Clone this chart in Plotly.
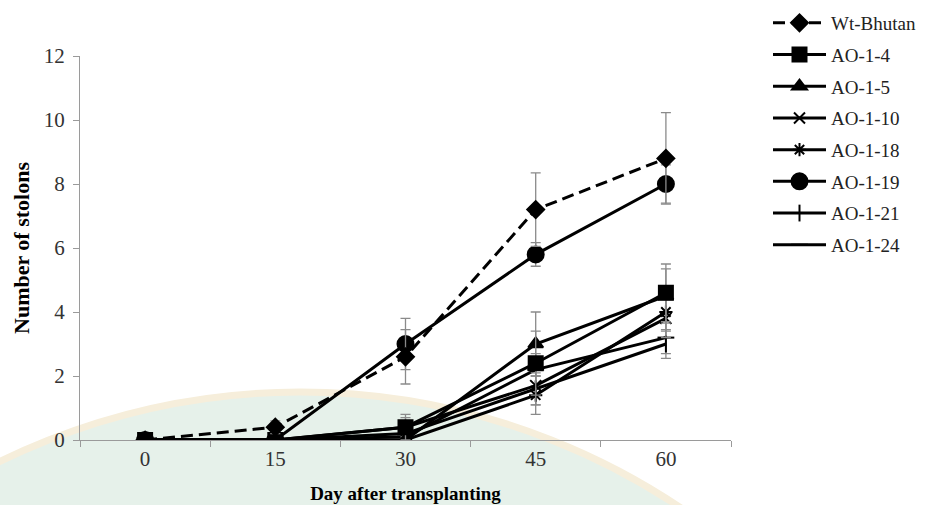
import plotly.graph_objects as go

days = ['0', '15', '30', '45', '60']
names = ['Wt-Bhutan', 'AO-1-4', 'AO-1-5', 'AO-1-10', 'AO-1-18', 'AO-1-19', 'AO-1-21', 'AO-1-24']

wt_bhutan = [0, 0.4, 2.6, 7.2, 8.8]
ao_1_4 = [0, 0, 0.4, 2.4, 4.6]
ao_1_5 = [0, 0, 0, 3.0, 4.5]
ao_1_10 = [0, 0, 0.4, 1.7, 3.8]
ao_1_18 = [0, 0, 0, 1.4, 4.0]
ao_1_19 = [0, 0, 3.0, 5.8, 8.0]
ao_1_21 = [0, 0, 0.2, 1.6, 3.0]
ao_1_24 = [0, 0, 0.1, 2.2, 3.2]

err_wt_bhutan = [None, 0.2, 0.85, 1.15, 1.43]
err_ao_1_4 = [None, None, 0.4, 1.0, 0.9]
err_ao_1_5 = [None, None, None, 1.0, 0.85]
err_ao_1_10 = [None, None, 0.3, 0.6, 0.6]
err_ao_1_18 = [None, None, None, 0.6, 0.6]
err_ao_1_19 = [None, None, 0.8, 0.37, 0.6]
err_ao_1_21 = [None, None, 0.2, 0.5, 0.45]
err_ao_1_24 = [None, None, 0.1, 0.5, 0.5]

values = [wt_bhutan, ao_1_4, ao_1_5, ao_1_10, ao_1_18, ao_1_19, ao_1_21, ao_1_24]
errors = [err_wt_bhutan, err_ao_1_4, err_ao_1_5, err_ao_1_10, err_ao_1_18, err_ao_1_19, err_ao_1_21, err_ao_1_24]
symbols = ['diamond', 'square', 'triangle-up', 'x-thin-open', 'asterisk-open', 'circle', 'line-ns-open', 'line-ew-open']
sizes = [13, 14, 13, 11, 11, 16, 12, 12]
dashes = ['12px,6px', 'solid', 'solid', 'solid', 'solid', 'solid', 'solid', 'solid']

FONT = 'Liberation Serif'
fig = go.Figure()

for i in reversed(range(len(names))):
    fig.add_trace(go.Scatter(
        x=days, y=values[i], name=names[i], mode='lines+markers',
        legendgroup=names[i], legendrank=i + 1,
        line=dict(color='black', width=3, dash=dashes[i]),
        marker=dict(symbol=symbols[i], size=sizes[i], color='black',
                    line=dict(color='black', width=2)),
        error_y=dict(type='data', array=errors[i], color='#8a8a8a', thickness=1.3, width=5),
    ))

# faint watermark disc behind the plot
L, R, T, B = 80, 194, 56, 65
W, H = 925 - L - R, 505 - T - B
cx, cy, rad = 300, 1075, 683
def px(x):
    return (x - L) / W
def py(y):
    return (505 - B - y) / H
fig.add_shape(type='circle', xref='paper', yref='paper', layer='below',
              x0=px(cx - rad), x1=px(cx + rad), y0=py(cy + rad), y1=py(cy - rad),
              fillcolor='#e6f1ea', line=dict(color='#f6eedb', width=7))

fig.update_layout(
    width=925, height=505,
    margin=dict(l=L, r=R, t=T, b=B, autoexpand=False),
    paper_bgcolor='white', plot_bgcolor='rgba(0,0,0,0)',
    font=dict(family=FONT, size=20, color='#3a3a3a'),
    showlegend=True,
    legend=dict(x=px(768), y=py(4), xanchor='left', yanchor='top',
                traceorder='grouped', tracegroupgap=4, maxheight=500,
                itemwidth=53, font=dict(family=FONT, size=19, color='#222'),
                bgcolor='rgba(0,0,0,0)'),
    xaxis=dict(type='category', range=[-0.5, 4.5], showline=True, linecolor='#9a9a9a',
               linewidth=1.3, ticks='outside', ticklen=6, tickcolor='#9a9a9a',
               tickson='boundaries', showgrid=False, zeroline=False,
               tickfont=dict(family=FONT, size=21, color='#333'),
               title=dict(text='<b>Day after transplanting</b>', standoff=16,
                          font=dict(family=FONT, size=19, color='black'))),
    yaxis=dict(range=[0, 12], dtick=2, showline=True, linecolor='#9a9a9a', linewidth=1.3,
               ticks='outside', ticklen=6, tickcolor='#9a9a9a', showgrid=False,
               zeroline=False, tickfont=dict(family=FONT, size=21, color='#333'),
               ticklabelstandoff=4,
               title=dict(text='<b>Number of stolons</b>', standoff=7,
                          font=dict(family=FONT, size=22, color='black'))),
)

fig.write_html('out.html')
